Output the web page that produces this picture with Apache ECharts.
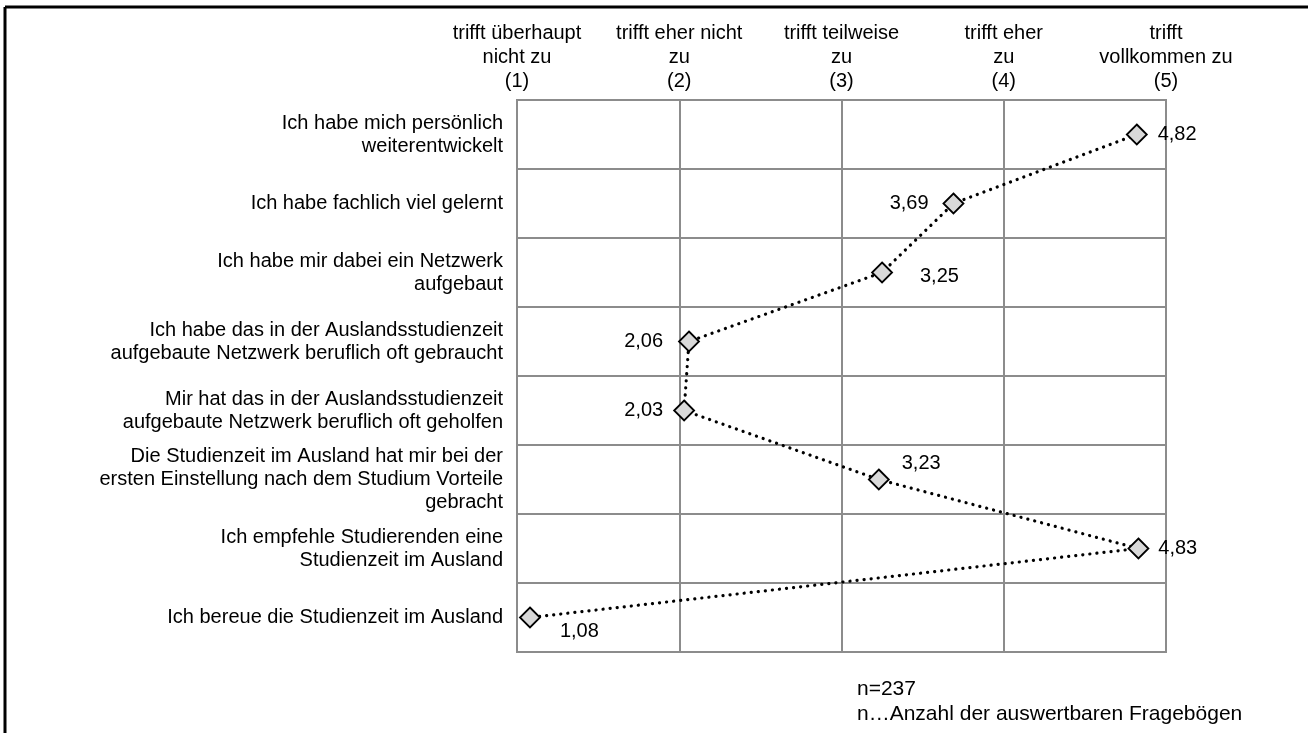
<!DOCTYPE html>
<html>
<head>
<meta charset="utf-8">
<script src="https://cdn.jsdelivr.net/npm/echarts@6/dist/echarts.min.js"></script>
<style>
html,body{margin:0;padding:0;background:#fff;}
#chart{width:1308px;height:733px;}
</style>
</head>
<body>
<div id="chart"></div>
<script>
const statements = [
  "Ich habe mich persönlich\nweiterentwickelt",
  "Ich habe fachlich viel gelernt",
  "Ich habe mir dabei ein Netzwerk\naufgebaut",
  "Ich habe das in der Auslandsstudienzeit\naufgebaute Netzwerk beruflich oft gebraucht",
  "Mir hat das in der Auslandsstudienzeit\naufgebaute Netzwerk beruflich oft geholfen",
  "Die Studienzeit im Ausland hat mir bei der\nersten Einstellung nach dem Studium Vorteile\ngebracht",
  "Ich empfehle Studierenden eine\nStudienzeit im Ausland",
  "Ich bereue die Studienzeit im Ausland"
];
const meanValues = [4.82, 3.69, 3.25, 2.06, 2.03, 3.23, 4.83, 1.08];
const scaleLabels = [
  "trifft überhaupt\nnicht zu\n(1)",
  "trifft eher nicht\nzu\n(2)",
  "trifft teilweise\nzu\n(3)",
  "trifft eher\nzu\n(4)",
  "trifft\nvollkommen zu\n(5)"
];
const noteLines = ["n=237", "n…Anzahl der auswertbaren Fragebögen"];

// label placement per point (style only)
const labelPlacement = [
  {position: 'right', distance: 10, offset: [0, 0]},
  {position: 'left', distance: 14, offset: [0, 0]},
  {position: 'right', distance: 27, offset: [0, 4]},
  {position: 'left', distance: 15, offset: [0, 0]},
  {position: 'left', distance: 10, offset: [0, 0]},
  {position: 'right', distance: 12, offset: [0, -16]},
  {position: 'right', distance: 9, offset: [0, 0]},
  {position: 'right', distance: 19, offset: [0, 14]}
];

const FONT = "'Liberation Sans', Arial, Helvetica, sans-serif";
const FS = 20;
const GRIDC = '#8c8c8c';

const chart = echarts.init(document.getElementById('chart'), null, {renderer: 'canvas'});

const seriesData = meanValues.map((v, i) => ({
  value: [v, statements[i]],
  label: labelPlacement[i]
}));

chart.setOption({
  backgroundColor: '#fff',
  animation: false,
  textStyle: {fontFamily: FONT},
  grid: {
    left: 517, right: 142, top: 100, bottom: 81,
    show: true, borderColor: GRIDC, borderWidth: 2, backgroundColor: 'transparent'
  },
  xAxis: {
    type: 'value', min: 1, max: 5, interval: 1, position: 'top',
    axisLine: {show: false}, axisTick: {show: false},
    splitLine: {show: true, lineStyle: {color: GRIDC, width: 2}},
    axisLabel: {
      formatter: v => scaleLabels[Math.round(v) - 1] || '',
      color: '#000', fontSize: FS, lineHeight: 24, margin: 7,
      fontFamily: FONT, align: 'center'
    }
  },
  yAxis: {
    type: 'category', data: statements, inverse: true,
    boundaryGap: true,
    axisLine: {show: false}, axisTick: {show: false},
    splitLine: {show: true, interval: 0, lineStyle: {color: GRIDC, width: 2}},
    axisLabel: {
      interval: 0, color: '#000', fontSize: FS, lineHeight: 23, margin: 14,
      fontFamily: FONT, align: 'right'
    }
  },
  series: [{
    type: 'line',
    data: seriesData,
    symbol: 'diamond',
    symbolSize: 20,
    itemStyle: {color: '#d9d9d9', borderColor: '#000', borderWidth: 1.8},
    lineStyle: {color: '#000', width: 3.2, type: [0.1, 7], cap: 'round'},
    label: {
      show: true, color: '#000', fontSize: FS, fontFamily: FONT,
      formatter: p => p.value[0].toFixed(2).replace('.', ',')
    },
    z: 3
  }],
  graphic: [
    {type: 'line', shape: {x1: 5, y1: 7, x2: 1308, y2: 7}, style: {stroke: '#000', lineWidth: 3}},
    {type: 'line', shape: {x1: 5, y1: 7, x2: 5, y2: 733}, style: {stroke: '#000', lineWidth: 3}},
    {type: 'text', x: 857, y: 689, style: {text: noteLines[0], fill: '#000', font: '21px ' + FONT, verticalAlign: 'middle'}},
    {type: 'text', x: 857, y: 714, style: {text: noteLines[1], fill: '#000', font: '21px ' + FONT, verticalAlign: 'middle'}}
  ]
});
</script>
</body>
</html>
